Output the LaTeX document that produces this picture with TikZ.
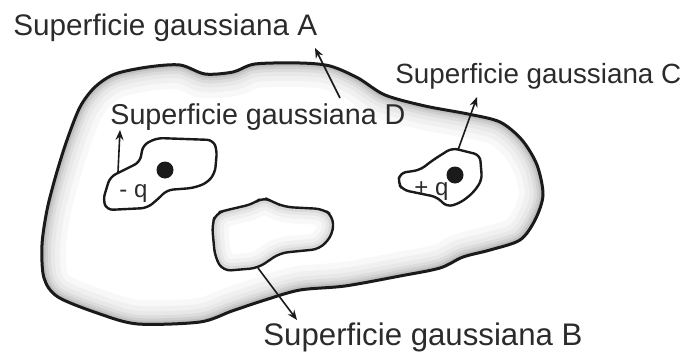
\documentclass[tikz,border=0pt]{standalone}
\usepackage{fontspec}
\setmainfont{Liberation Sans}
\usetikzlibrary{arrows.meta}
\definecolor{inkblack}{HTML}{1A1A1A}
\definecolor{labelgray}{HTML}{2B2B2B}
\definecolor{shadegray}{HTML}{6E6E6E}

% Outline of each Gaussian surface (pixel-like units, y downwards)
\newcommand{\surfA}[1]{\path[#1] plot[smooth cycle, tension=0.5] coordinates {
  (47,210) (56,175) (67,140) (80,107) (95,87) (115,74) (148,67) (180,65)
  (205,74) (233,72) (255,64) (300,63) (330,66) (358,78) (385,95) (425,106)
  (468,114) (500,122) (522,140) (537,165) (543,195) (535,220) (520,240)
  (490,250) (463,257) (440,268) (400,276) (345,286) (300,290) (265,300)
  (232,311) (200,322) (138,324) (100,314) (58,297) (44,278) (42,245)};}
\newcommand{\surfB}[1]{\path[#1, rounded corners=4pt] (212,225) -- (216,213)
  -- (227,210) -- (253,204) -- (263,197) -- (273,202) -- (285,207) -- (323,209)
  -- (333,216) -- (333,234) -- (320,249) -- (280,253) -- (258,268) -- (223,271)
  -- (215,257) -- cycle;}
\newcommand{\surfD}[1]{\path[#1, rounded corners=3pt] (143,145) -- (157,138)
  -- (213,140) -- (217,150) -- (215,173) -- (207,183) -- (193,188) -- (167,190)
  -- (157,200) -- (147,208) -- (107,210) -- (103,200) -- (110,177) -- (120,172)
  -- (140,162) -- cycle;}
\newcommand{\surfC}[1]{\path[#1, rounded corners=3pt] (452,148) -- (480,155)
  -- (482,180) -- (473,193) -- (460,203) -- (447,207) -- (437,197) -- (403,190)
  -- (398,183) -- (400,173) -- (420,170) -- (433,160) -- cycle;}

\begin{document}
\begin{tikzpicture}[
  x=0.5pt, y=-0.5pt,
  font=\fontsize{14.85pt}{17pt}\selectfont,
  outline/.style={draw=inkblack, line width=1.5pt, line join=round},
  hole/.style={draw=inkblack, line width=1.2pt, line join=round, fill=white},
  pointer/.style={-{Stealth[length=5pt, width=4pt]}, draw=inkblack, line width=0.8pt},
  surflabel/.style={anchor=base west, inner sep=0pt, text=labelgray},
  chargelabel/.style={anchor=base west, inner sep=0pt, text=labelgray,
                      font=\fontsize{12pt}{14pt}\selectfont},
  charge/.style={circle, fill=inkblack, inner sep=0pt, minimum size=8.5pt}
]
\useasboundingbox (0,0) rectangle (686,354);

% Surface A with its inner grey rim
\surfA{fill=white}
\begin{scope}
  \surfA{clip}
  \foreach \lw/\tone in {24/5,18/10,13/16,9/24,6/33,3.5/44}
    {\surfA{draw=shadegray!\tone, line width=\lw pt}}
\end{scope}
\surfA{outline}

% Surface B (empty region) with a lighter rim
\surfB{fill=white}
\begin{scope}
  \surfB{clip}
  \foreach \lw/\tone in {16/5,11/10,7/17,4/26}
    {\surfB{draw=shadegray!\tone, line width=\lw pt}}
\end{scope}
\surfB{outline, line width=1.2pt}

% Surfaces D and C round the two charges
\surfD{hole}
\surfC{hole}
\node[charge] (qneg) at (165,170) {};
\node[charge] (qpos) at (455,175) {};
\node[chargelabel] (qneglabel) at (119,197) {- q};
\node[chargelabel] (qposlabel) at (414,195) {+ q};

% Labels
\node[surflabel] (labelA) at (13,35) {Superficie gaussiana A};
\node[surflabel, font=\fontsize{14.35pt}{17pt}\selectfont] (labelD) at (110,124) {Superficie gaussiana D};
\node[surflabel, font=\fontsize{13.9pt}{16pt}\selectfont] (labelC) at (395,83) {Superficie gaussiana C};
\node[surflabel, font=\fontsize{15.6pt}{18pt}\selectfont] (labelB) at (263,345) {Superficie gaussiana B};

% Arrow ends
\coordinate (fromA) at (340,98);
\coordinate (tipA) at (315,48);
\coordinate (fromD) at (118,172);
\coordinate (tipD) at (120,130);
\coordinate (fromC) at (458,150);
\coordinate (tipC) at (477,97);
\coordinate (fromB) at (258,268);
\coordinate (tipB) at (297,320);

\draw[pointer] (fromA) -- (tipA);
\draw[pointer] (fromD) -- (tipD);
\draw[pointer] (fromC) -- (tipC);
\draw[pointer] (fromB) -- (tipB);

\end{tikzpicture}
\end{document}
